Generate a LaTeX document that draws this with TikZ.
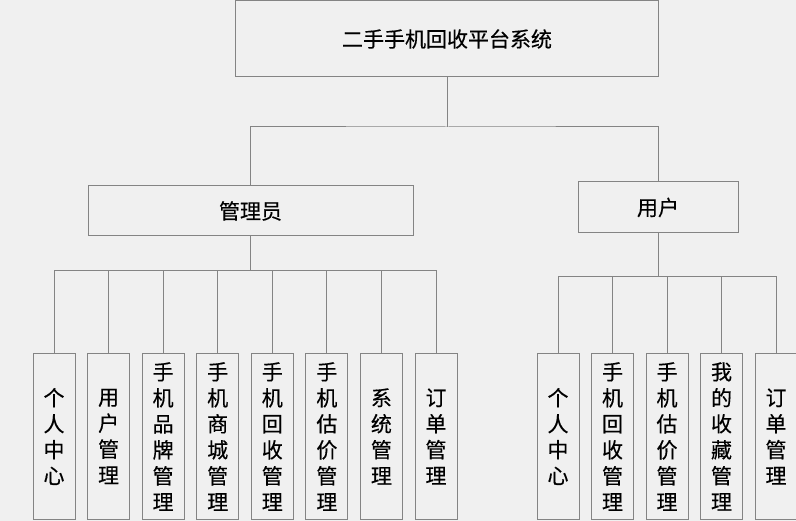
\documentclass[tikz,border=0pt]{standalone}
\usepackage{fontspec}
\newfontfamily\cjk[FakeBold=0.4]{Noto Sans CJK SC}
\definecolor{bgc}{HTML}{F0F0F0}
\definecolor{linec}{HTML}{848484}
\tikzset{
  box/.style={draw=linec, line width=1pt, fill=bgc, inner sep=0pt, font=\cjk\fontsize{21}{26}\selectfont, text=black},
  leaf/.style={box, minimum width=42pt, minimum height=165pt, align=center},
  conn/.style={draw=linec, line width=1pt}
}
\begin{document}
\begin{tikzpicture}[x=1pt,y=-1pt]
\useasboundingbox (0,0) rectangle (796,521);
\fill[bgc] (0,0) rectangle (796,521);
\node[box, minimum width=423pt, minimum height=76pt] (top) at (447,39) {二手手机回收平台系统};
\node[box, minimum width=325pt, minimum height=50pt] (admin) at (250.5,211) {管理员};
\node[box, minimum width=160pt, minimum height=51pt] (user) at (658,207.5) {用户};
\coordinate (j) at (447,127);
\coordinate (ab) at (250.5,271);
\coordinate (ub) at (658,277);
% admin children
\node[leaf] (a1) at (54,436.5) {个\\人\\中\\心};
\node[leaf] (a2) at (108.6,436.5) {用\\户\\管\\理};
\node[leaf] (a3) at (163.1,436.5) {手\\机\\品\\牌\\管\\理};
\node[leaf] (a4) at (217.7,436.5) {手\\机\\商\\城\\管\\理};
\node[leaf] (a5) at (272.3,436.5) {手\\机\\回\\收\\管\\理};
\node[leaf] (a6) at (326.9,436.5) {手\\机\\估\\价\\管\\理};
\node[leaf] (a7) at (381.4,436.5) {系\\统\\管\\理};
\node[leaf] (a8) at (436,436.5) {订\\单\\管\\理};
% user children
\node[leaf] (u1) at (558,436.5) {个\\人\\中\\心};
\node[leaf] (u2) at (612.5,436.5) {手\\机\\回\\收\\管\\理};
\node[leaf] (u3) at (667,436.5) {手\\机\\估\\价\\管\\理};
\node[leaf] (u4) at (721.5,436.5) {我\\的\\收\\藏\\管\\理};
\node[leaf] (u5) at (776,436.5) {订\\单\\管\\理};
% connectors
\draw[conn] (top.south) -- (j);
\draw[conn] (admin.north) |- (j) -| (user.north);
\draw[conn] (admin.south) -- (ab);
\draw[conn] (user.south) -- (ub);
\foreach \n in {a1,a2,a3,a4,a5,a6,a7,a8}{\draw[conn] (\n.north) |- (ab);}
\foreach \n in {u1,u2,u3,u4,u5}{\draw[conn] (\n.north) |- (ub);}
\end{tikzpicture}
\end{document}
